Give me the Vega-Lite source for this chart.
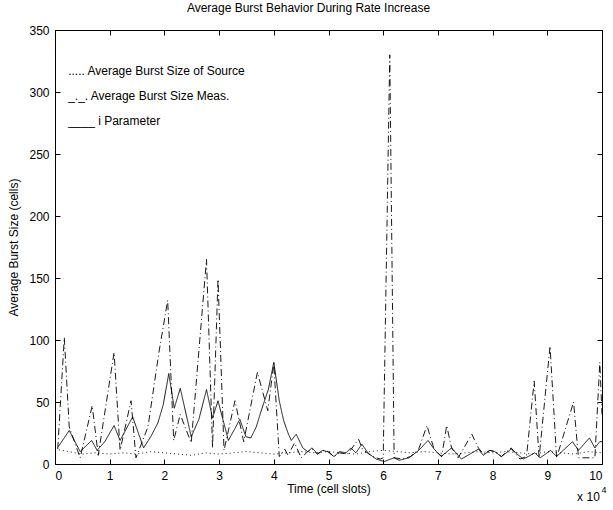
{
  "$schema": "https://vega.github.io/schema/vega-lite/v6.json",
  "width": 547,
  "height": 434,
  "autosize": {"type": "none"},
  "padding": {"left": 55, "top": 30, "right": 11, "bottom": 46},
  "background": "white",
  "title": {"text": "Average Burst Behavior During Rate Increase", "font": "Liberation Sans", "fontSize": 12, "fontWeight": "normal", "color": "black", "offset": 9, "dx": -20},
  "config": {
    "view": {"stroke": "black", "strokeWidth": 1},
    "axis": {"grid": false, "domain": false, "tickColor": "black", "tickSize": -5, "tickWidth": 1, "labelFont": "Liberation Sans", "labelFontSize": 12, "labelColor": "black", "titleFont": "Liberation Sans", "titleFontSize": 12, "titleFontWeight": "normal", "titleColor": "black"}
  },
  "datasets": {
    "series": [
      {"series": "source", "x": 0.0, "y": 12}, {"series": "source", "x": 0.25, "y": 10}, {"series": "source", "x": 0.5, "y": 8}, {"series": "source", "x": 0.75, "y": 9}, {"series": "source", "x": 1.0, "y": 8}, {"series": "source", "x": 1.25, "y": 9}, {"series": "source", "x": 1.5, "y": 8}, {"series": "source", "x": 1.75, "y": 10}, {"series": "source", "x": 2.0, "y": 9}, {"series": "source", "x": 2.25, "y": 8}, {"series": "source", "x": 2.5, "y": 7}, {"series": "source", "x": 2.75, "y": 9}, {"series": "source", "x": 3.0, "y": 8}, {"series": "source", "x": 3.25, "y": 9}, {"series": "source", "x": 3.5, "y": 10}, {"series": "source", "x": 3.75, "y": 9}, {"series": "source", "x": 4.0, "y": 8}, {"series": "source", "x": 4.25, "y": 9}, {"series": "source", "x": 4.5, "y": 10}, {"series": "source", "x": 4.75, "y": 9}, {"series": "source", "x": 5.0, "y": 10}, {"series": "source", "x": 5.25, "y": 9}, {"series": "source", "x": 5.5, "y": 8}, {"series": "source", "x": 5.75, "y": 10}, {"series": "source", "x": 6.0, "y": 11}, {"series": "source", "x": 6.25, "y": 10}, {"series": "source", "x": 6.5, "y": 9}, {"series": "source", "x": 6.75, "y": 10}, {"series": "source", "x": 7.0, "y": 9}, {"series": "source", "x": 7.25, "y": 8}, {"series": "source", "x": 7.5, "y": 9}, {"series": "source", "x": 7.75, "y": 10}, {"series": "source", "x": 8.0, "y": 9}, {"series": "source", "x": 8.25, "y": 10}, {"series": "source", "x": 8.5, "y": 9}, {"series": "source", "x": 8.75, "y": 8}, {"series": "source", "x": 9.0, "y": 10}, {"series": "source", "x": 9.25, "y": 9}, {"series": "source", "x": 9.5, "y": 8}, {"series": "source", "x": 9.75, "y": 10}, {"series": "source", "x": 10.0, "y": 9},

      {"series": "meas", "x": 0.05, "y": 12}, {"series": "meas", "x": 0.17, "y": 102}, {"series": "meas", "x": 0.26, "y": 30}, {"series": "meas", "x": 0.46, "y": 5}, {"series": "meas", "x": 0.68, "y": 47}, {"series": "meas", "x": 0.79, "y": 7}, {"series": "meas", "x": 1.08, "y": 90}, {"series": "meas", "x": 1.19, "y": 11}, {"series": "meas", "x": 1.39, "y": 51}, {"series": "meas", "x": 1.48, "y": 5}, {"series": "meas", "x": 1.7, "y": 30}, {"series": "meas", "x": 1.9, "y": 90}, {"series": "meas", "x": 2.06, "y": 132}, {"series": "meas", "x": 2.17, "y": 19}, {"series": "meas", "x": 2.29, "y": 40}, {"series": "meas", "x": 2.49, "y": 17}, {"series": "meas", "x": 2.77, "y": 165}, {"series": "meas", "x": 2.88, "y": 13}, {"series": "meas", "x": 2.98, "y": 149}, {"series": "meas", "x": 3.09, "y": 11}, {"series": "meas", "x": 3.29, "y": 51}, {"series": "meas", "x": 3.45, "y": 18}, {"series": "meas", "x": 3.7, "y": 74}, {"series": "meas", "x": 3.89, "y": 43}, {"series": "meas", "x": 4.0, "y": 81}, {"series": "meas", "x": 4.1, "y": 6}, {"series": "meas", "x": 4.2, "y": 12}, {"series": "meas", "x": 4.26, "y": 7}, {"series": "meas", "x": 4.38, "y": 17}, {"series": "meas", "x": 4.5, "y": 5}, {"series": "meas", "x": 4.62, "y": 10}, {"series": "meas", "x": 4.7, "y": 12}, {"series": "meas", "x": 4.8, "y": 8}, {"series": "meas", "x": 4.9, "y": 11}, {"series": "meas", "x": 5.0, "y": 10}, {"series": "meas", "x": 5.1, "y": 6}, {"series": "meas", "x": 5.2, "y": 9}, {"series": "meas", "x": 5.35, "y": 8}, {"series": "meas", "x": 5.55, "y": 20}, {"series": "meas", "x": 5.62, "y": 12}, {"series": "meas", "x": 5.8, "y": 6}, {"series": "meas", "x": 5.95, "y": 4}, {"series": "meas", "x": 6.0, "y": 5}, {"series": "meas", "x": 6.12, "y": 330}, {"series": "meas", "x": 6.2, "y": 5}, {"series": "meas", "x": 6.35, "y": 4}, {"series": "meas", "x": 6.5, "y": 6}, {"series": "meas", "x": 6.65, "y": 12}, {"series": "meas", "x": 6.8, "y": 31}, {"series": "meas", "x": 6.93, "y": 12}, {"series": "meas", "x": 7.07, "y": 6}, {"series": "meas", "x": 7.16, "y": 31}, {"series": "meas", "x": 7.25, "y": 13}, {"series": "meas", "x": 7.37, "y": 5}, {"series": "meas", "x": 7.62, "y": 24}, {"series": "meas", "x": 7.74, "y": 13}, {"series": "meas", "x": 7.83, "y": 8}, {"series": "meas", "x": 7.95, "y": 11}, {"series": "meas", "x": 8.04, "y": 10}, {"series": "meas", "x": 8.16, "y": 6}, {"series": "meas", "x": 8.34, "y": 13}, {"series": "meas", "x": 8.5, "y": 4}, {"series": "meas", "x": 8.62, "y": 6}, {"series": "meas", "x": 8.76, "y": 67}, {"series": "meas", "x": 8.85, "y": 5}, {"series": "meas", "x": 9.05, "y": 95}, {"series": "meas", "x": 9.17, "y": 5}, {"series": "meas", "x": 9.48, "y": 50}, {"series": "meas", "x": 9.57, "y": 5}, {"series": "meas", "x": 9.87, "y": 5}, {"series": "meas", "x": 9.96, "y": 82}, {"series": "meas", "x": 10.0, "y": 40},

      {"series": "ipar", "x": 0.06, "y": 14}, {"series": "ipar", "x": 0.26, "y": 27}, {"series": "ipar", "x": 0.46, "y": 10}, {"series": "ipar", "x": 0.67, "y": 19}, {"series": "ipar", "x": 0.77, "y": 11}, {"series": "ipar", "x": 0.91, "y": 18}, {"series": "ipar", "x": 1.08, "y": 31}, {"series": "ipar", "x": 1.19, "y": 19}, {"series": "ipar", "x": 1.42, "y": 38}, {"series": "ipar", "x": 1.62, "y": 13}, {"series": "ipar", "x": 1.75, "y": 22}, {"series": "ipar", "x": 1.88, "y": 33}, {"series": "ipar", "x": 1.98, "y": 48}, {"series": "ipar", "x": 2.08, "y": 73}, {"series": "ipar", "x": 2.18, "y": 45}, {"series": "ipar", "x": 2.29, "y": 61}, {"series": "ipar", "x": 2.49, "y": 22}, {"series": "ipar", "x": 2.63, "y": 36}, {"series": "ipar", "x": 2.77, "y": 60}, {"series": "ipar", "x": 2.88, "y": 37}, {"series": "ipar", "x": 2.98, "y": 51}, {"series": "ipar", "x": 3.17, "y": 19}, {"series": "ipar", "x": 3.38, "y": 36}, {"series": "ipar", "x": 3.49, "y": 22}, {"series": "ipar", "x": 3.58, "y": 21}, {"series": "ipar", "x": 3.68, "y": 30}, {"series": "ipar", "x": 3.77, "y": 43}, {"series": "ipar", "x": 3.9, "y": 60}, {"series": "ipar", "x": 4.0, "y": 82}, {"series": "ipar", "x": 4.1, "y": 51}, {"series": "ipar", "x": 4.18, "y": 35}, {"series": "ipar", "x": 4.26, "y": 25}, {"series": "ipar", "x": 4.32, "y": 19}, {"series": "ipar", "x": 4.41, "y": 24}, {"series": "ipar", "x": 4.53, "y": 13}, {"series": "ipar", "x": 4.62, "y": 10}, {"series": "ipar", "x": 4.7, "y": 13}, {"series": "ipar", "x": 4.8, "y": 8}, {"series": "ipar", "x": 4.89, "y": 11}, {"series": "ipar", "x": 4.98, "y": 10}, {"series": "ipar", "x": 5.1, "y": 6}, {"series": "ipar", "x": 5.2, "y": 10}, {"series": "ipar", "x": 5.32, "y": 9}, {"series": "ipar", "x": 5.41, "y": 13}, {"series": "ipar", "x": 5.5, "y": 9}, {"series": "ipar", "x": 5.61, "y": 16}, {"series": "ipar", "x": 5.72, "y": 9}, {"series": "ipar", "x": 5.87, "y": 4}, {"series": "ipar", "x": 6.02, "y": 2}, {"series": "ipar", "x": 6.2, "y": 5}, {"series": "ipar", "x": 6.29, "y": 3}, {"series": "ipar", "x": 6.47, "y": 5}, {"series": "ipar", "x": 6.65, "y": 11}, {"series": "ipar", "x": 6.82, "y": 19}, {"series": "ipar", "x": 6.93, "y": 12}, {"series": "ipar", "x": 7.06, "y": 6}, {"series": "ipar", "x": 7.25, "y": 13}, {"series": "ipar", "x": 7.43, "y": 4}, {"series": "ipar", "x": 7.74, "y": 12}, {"series": "ipar", "x": 7.83, "y": 7}, {"series": "ipar", "x": 7.95, "y": 11}, {"series": "ipar", "x": 8.04, "y": 10}, {"series": "ipar", "x": 8.16, "y": 6}, {"series": "ipar", "x": 8.34, "y": 12}, {"series": "ipar", "x": 8.56, "y": 4}, {"series": "ipar", "x": 8.65, "y": 6}, {"series": "ipar", "x": 8.77, "y": 9}, {"series": "ipar", "x": 8.87, "y": 5}, {"series": "ipar", "x": 9.06, "y": 11}, {"series": "ipar", "x": 9.17, "y": 6}, {"series": "ipar", "x": 9.46, "y": 18}, {"series": "ipar", "x": 9.57, "y": 11}, {"series": "ipar", "x": 9.77, "y": 21}, {"series": "ipar", "x": 9.87, "y": 13}, {"series": "ipar", "x": 9.96, "y": 18}, {"series": "ipar", "x": 10.0, "y": 18}
    ],
    "legendtext": [
      {"label": "..... Average Burst Size of Source", "x": 0.24, "y": 317},
      {"label": "_._. Average Burst Size Meas.", "x": 0.24, "y": 297},
      {"label": "____ i Parameter", "x": 0.24, "y": 277}
    ]
  },
  "layer": [
    {
      "data": {"name": "series"},
      "mark": {"type": "line", "color": "black", "strokeWidth": 0.9},
      "encoding": {
        "x": {"field": "x", "type": "quantitative", "scale": {"domain": [0, 10], "nice": false},
              "axis": {"orient": "bottom", "values": [0,1,2,3,4,5,6,7,8,9,10], "title": "Time (cell slots)", "labelPadding": 11, "titlePadding": 2}},
        "y": {"field": "y", "type": "quantitative", "scale": {"domain": [0, 350], "nice": false},
              "axis": {"orient": "left", "values": [0,50,100,150,200,250,300,350], "title": "Average Burst Size (cells)", "labelPadding": 11, "titlePadding": 8}},
        "strokeDash": {"field": "series", "type": "nominal", "scale": {"domain": ["source", "meas", "ipar"], "range": [[1, 3], [7, 3, 1, 3], [1, 0]]}, "legend": null},
        "detail": {"field": "series"}
      }
    },
    {
      "data": {"name": "legendtext"},
      "mark": {"type": "text", "align": "left", "baseline": "middle", "font": "Liberation Sans", "fontSize": 12, "color": "black"},
      "encoding": {
        "x": {"field": "x", "type": "quantitative", "axis": {"orient": "top", "values": [0,1,2,3,4,5,6,7,8,9,10], "labels": false, "title": null}},
        "y": {"field": "y", "type": "quantitative", "axis": {"orient": "right", "values": [0,50,100,150,200,250,300,350], "labels": false, "title": null}},
        "text": {"field": "label"}
      }
    },
    {
      "data": {"values": [{"label": "x 10", "x": 9.96, "y": -27}]},
      "mark": {"type": "text", "align": "right", "baseline": "middle", "font": "Liberation Sans", "fontSize": 12, "color": "black"},
      "encoding": {
        "x": {"field": "x", "type": "quantitative", "axis": null},
        "y": {"field": "y", "type": "quantitative", "axis": null},
        "text": {"field": "label"}
      }
    },
    {
      "data": {"values": [{"label": "4", "x": 9.99, "y": -21}]},
      "mark": {"type": "text", "align": "left", "baseline": "middle", "font": "Liberation Sans", "fontSize": 9, "color": "black"},
      "encoding": {
        "x": {"field": "x", "type": "quantitative", "axis": null},
        "y": {"field": "y", "type": "quantitative", "axis": null},
        "text": {"field": "label"}
      }
    }
  ]
}
